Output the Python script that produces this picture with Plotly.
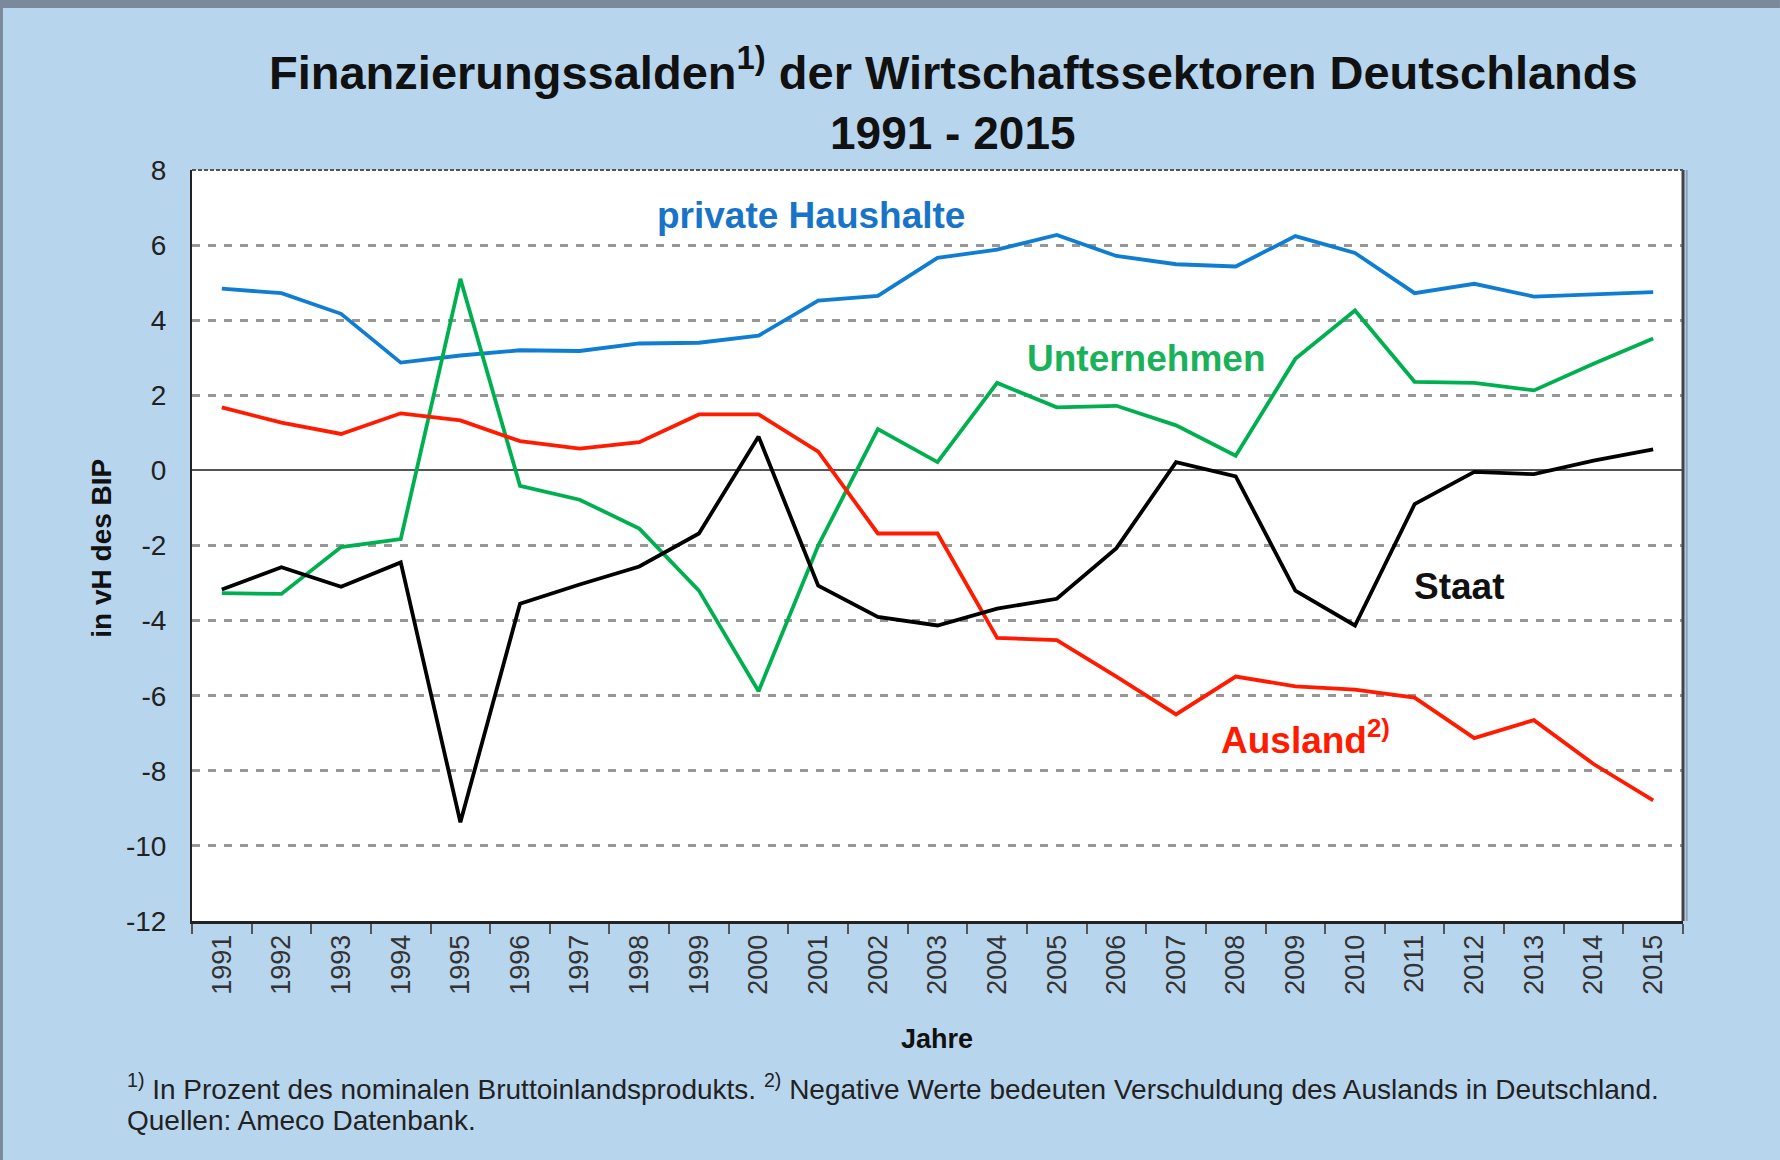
import plotly.graph_objects as go

years = ["1991", "1992", "1993", "1994", "1995", "1996", "1997", "1998", "1999", "2000",
         "2001", "2002", "2003", "2004", "2005", "2006", "2007", "2008", "2009", "2010",
         "2011", "2012", "2013", "2014", "2015"]

private_haushalte = [4.84, 4.72, 4.17, 2.87, 3.06, 3.20, 3.18, 3.38, 3.40, 3.59,
                     4.52, 4.65, 5.66, 5.88, 6.27, 5.71, 5.49, 5.43, 6.24, 5.79,
                     4.72, 4.97, 4.63, 4.70, 4.75]
unternehmen = [-3.27, -3.29, -2.04, -1.83, 5.10, -0.41, -0.78, -1.55, -3.20, -5.88,
               -2.00, 1.10, 0.22, 2.33, 1.68, 1.72, 1.20, 0.39, 2.97, 4.26,
               2.36, 2.33, 2.13, 2.84, 3.51]
ausland = [1.68, 1.27, 0.97, 1.52, 1.33, 0.78, 0.58, 0.75, 1.49, 1.49,
           0.50, -1.68, -1.68, -4.46, -4.52, -5.49, -6.50, -5.49, -5.75, -5.84,
           -6.05, -7.13, -6.65, -7.82, -8.79]
staat = [-3.17, -2.58, -3.10, -2.45, -9.37, -3.55, -3.04, -2.56, -1.68, 0.90,
         -3.07, -3.90, -4.13, -3.68, -3.42, -2.07, 0.22, -0.16, -3.20, -4.13,
         -0.90, -0.04, -0.10, 0.26, 0.56]

y_ticks = [8, 6, 4, 2, 0, -2, -4, -6, -8, -10, -12]

BLUE = "#0F7DD2"
GREEN = "#00B050"
RED = "#FF1A00"
BLACK = "#000000"
BG = "#B8D5EE"
FONT = "Liberation Sans, Arial, sans-serif"

fig = go.Figure()
for vals, col, name in [(private_haushalte, BLUE, "private Haushalte"),
                        (unternehmen, GREEN, "Unternehmen"),
                        (ausland, RED, "Ausland"),
                        (staat, BLACK, "Staat")]:
    fig.add_trace(go.Scatter(x=years, y=vals, mode="lines", name=name,
                             line=dict(color=col, width=3.8), showlegend=False,
                             hoverinfo="skip"))

fig.update_layout(
    width=1780, height=1160,
    margin=dict(l=192, r=97, t=170, b=239),
    paper_bgcolor=BG, plot_bgcolor="white",
    font=dict(family=FONT, color="#222"),
    xaxis=dict(type="category", range=[-0.5, 24.5], tickangle=-90,
               ticks="outside", tickson="boundaries", ticklen=10, tickwidth=2,
               tickcolor="#555", showgrid=False, showline=True, linecolor="#222",
               linewidth=3, mirror=False, tickfont=dict(size=27, color="#333")),
    yaxis=dict(range=[-12, 8], tickvals=y_ticks, ticktext=[str(v) for v in y_ticks],
               showgrid=True, gridcolor="#979797", griddash="8px,8px", gridwidth=3,
               zeroline=True, zerolinecolor="#555", zerolinewidth=2,
               showline=True, linecolor="#222", linewidth=2, mirror=False,
               ticks="", ticklabelstandoff=18, tickfont=dict(size=28, color="#222")),
)

# right and top frame
fig.add_shape(type="line", xref="paper", yref="paper", x0=1, x1=1, y0=0, y1=1,
              line=dict(color="#444", width=3))
fig.add_shape(type="line", xref="paper", yref="paper", x0=1.0025, x1=1.0025, y0=0, y1=1,
              line=dict(color="#8FA3B8", width=2))
fig.add_shape(type="line", xref="paper", yref="paper", x0=0, x1=1, y0=1, y1=1,
              line=dict(color="#555", width=2, dash="4px,2px"))
# outer border
fig.add_shape(type="rect", xref="paper", yref="paper", x0=-0.1288, x1=1.065,
              y0=1.2157, y1=1.2264, line=dict(width=0), fillcolor="#7A8A9A", layer="below")
fig.add_shape(type="rect", xref="paper", yref="paper", x0=-0.1288, x1=-0.1268,
              y0=-0.3196, y1=1.2264, line=dict(width=0), fillcolor="#7A8A9A", layer="below")

ann = []
ann.append(dict(text="<b>Finanzierungssalden<sup>1)</sup> der Wirtschaftssektoren Deutschlands</b>",
                x=0.5104, y=1.1345, xref="paper", yref="paper", showarrow=False,
                xanchor="center", yanchor="middle", font=dict(size=47, color="#111")))
ann.append(dict(text="<b>1991 - 2015</b>", x=0.5104, y=1.049, xref="paper", yref="paper",
                showarrow=False, xanchor="center", yanchor="middle",
                font=dict(size=46, color="#111")))
ann.append(dict(text="<b>in vH des BIP</b>", x=-0.0604, y=0.497, xref="paper", yref="paper",
                showarrow=False, textangle=-90, xanchor="center", yanchor="middle",
                font=dict(size=28, color="#111")))
ann.append(dict(text="<b>Jahre</b>", x=0.4997, y=-0.157, xref="paper", yref="paper",
                showarrow=False, xanchor="center", yanchor="middle",
                font=dict(size=27, color="#111")))
ann.append(dict(text="<sup>1)</sup> In Prozent des nominalen Bruttoinlandsprodukts. "
                     "<sup>2)</sup> Negative Werte bedeuten Verschuldung des Auslands in Deutschland.",
                x=-0.0449, y=-0.221, xref="paper", yref="paper", showarrow=False,
                xanchor="left", yanchor="middle", font=dict(size=28, color="#222")))
ann.append(dict(text="Quellen: Ameco Datenbank.", x=-0.0449, y=-0.266, xref="paper",
                yref="paper", showarrow=False, xanchor="left", yanchor="middle",
                font=dict(size=28, color="#222")))
# series labels
ann.append(dict(text="<b>private Haushalte</b>", x=0.415, y=0.940, xref="paper", yref="paper",
                showarrow=False, xanchor="center", yanchor="middle",
                font=dict(size=37, color="#1874C8")))
ann.append(dict(text="<b>Unternehmen</b>", x=0.640, y=0.749, xref="paper", yref="paper",
                showarrow=False, xanchor="center", yanchor="middle",
                font=dict(size=37, color="#19B25A")))
ann.append(dict(text="<b>Staat</b>", x=0.850, y=0.445, xref="paper", yref="paper",
                showarrow=False, xanchor="center", yanchor="middle",
                font=dict(size=37, color="#111")))
ann.append(dict(text="<b>Ausland<sup>2)</sup></b>", x=0.689, y=0.244, xref="paper", yref="paper",
                showarrow=False, xanchor="left", yanchor="middle",
                font=dict(size=37, color=RED)))
fig.update_layout(annotations=ann)

fig.write_html("out.html", config={"displayModeBar": False},
               post_script="document.body.style.margin='0px';"
                           "document.body.style.background='%s';" % BG)
